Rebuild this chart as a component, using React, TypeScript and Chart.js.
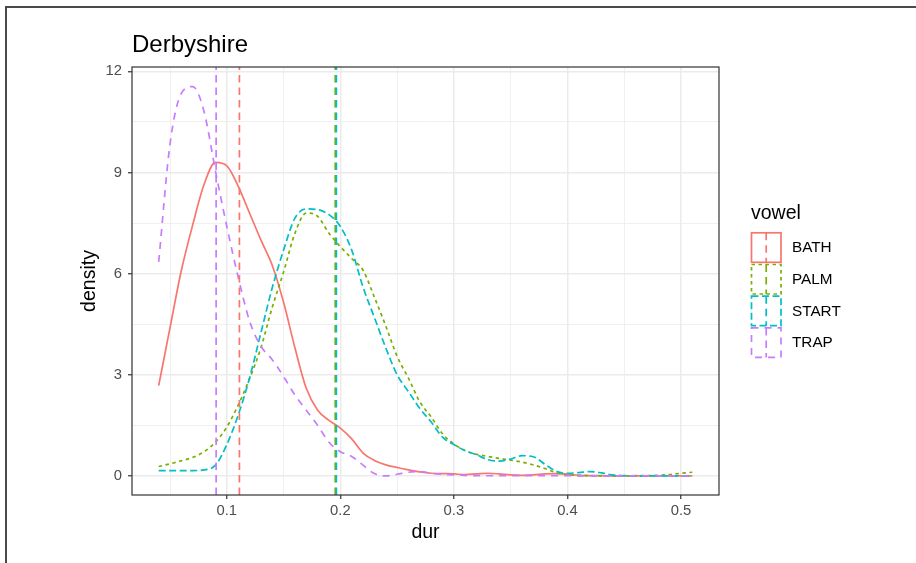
import React, { useEffect, useRef } from 'react';
import { Chart, registerables } from 'chart.js';

Chart.register(...registerables);

// ---------- data ----------
const durGrid = [
  0.04, 0.05, 0.06, 0.07, 0.08, 0.09, 0.1, 0.11, 0.12, 0.13, 0.14, 0.15,
  0.16, 0.17, 0.18, 0.19, 0.2, 0.21, 0.22, 0.23, 0.24, 0.25, 0.26, 0.27,
  0.28, 0.29, 0.3, 0.31, 0.32, 0.33, 0.34, 0.35, 0.36, 0.37, 0.38, 0.39,
  0.4, 0.41, 0.42, 0.43, 0.44, 0.45, 0.46, 0.47, 0.48, 0.49, 0.5, 0.51,
];

const bathDensity = [
  2.68, 4.4, 6.1, 7.45, 8.65, 9.3, 9.2, 8.6, 7.8, 7.0, 6.25, 5.15,
  3.8, 2.6, 1.95, 1.65, 1.42, 1.1, 0.68, 0.46, 0.33, 0.25, 0.18, 0.12,
  0.08, 0.07, 0.06, 0.04, 0.06, 0.08, 0.06, 0.03, 0.02, 0.03, 0.06, 0.07,
  0.05, 0.02, 0.01, 0.01, 0, 0, 0, 0, 0, 0, 0, 0,
];

const palmDensity = [
  0.28, 0.36, 0.45, 0.55, 0.72, 1.0, 1.45, 2.1, 2.88, 3.8, 5.0, 6.05,
  7.2, 7.8, 7.7, 7.2, 6.8, 6.45, 6.1, 5.3, 4.45, 3.55, 2.9, 2.2,
  1.75, 1.25, 0.95, 0.75, 0.64, 0.58, 0.52, 0.47, 0.41, 0.33, 0.22, 0.1,
  0.04, 0.02, 0.01, 0, 0, 0, 0.01, 0.01, 0.02, 0.04, 0.08, 0.11,
];

const startDensity = [
  0.16, 0.16, 0.16, 0.16, 0.18, 0.32, 0.93, 1.8, 2.9, 4.24, 5.58, 6.7,
  7.65, 7.92, 7.9, 7.75, 7.4, 6.7, 5.6, 4.7, 3.8, 3.0, 2.5, 2.0,
  1.6, 1.15, 0.93, 0.75, 0.63, 0.48, 0.44, 0.5, 0.6, 0.57, 0.35, 0.14,
  0.08, 0.1, 0.13, 0.09, 0.03, 0.01, 0, 0, 0, 0, 0, 0,
];

const trapDensity = [
  6.35, 9.85, 11.35, 11.55, 10.8, 9.05, 7.4, 5.9, 4.6, 3.85, 3.45, 2.95,
  2.4, 1.95, 1.5, 1.0, 0.72, 0.58, 0.32, 0.07, 0, 0.05, 0.11, 0.13,
  0.08, 0.05, 0.03, 0.02, 0.01, 0.01, 0.01, 0.01, 0.01, 0.01, 0.01, 0.01,
  0.01, 0, 0, 0, 0, 0, 0, 0, 0, 0, 0, 0,
];

const vowels = ['BATH', 'PALM', 'START', 'TRAP'];
const vowelMeans = [0.1111, 0.1955, 0.1965, 0.0906];

const xMajorTicks = [0.1, 0.2, 0.3, 0.4, 0.5];
const xMinorTicks = [0.05, 0.15, 0.25, 0.35, 0.45];
const xTickLabels = ['0.1', '0.2', '0.3', '0.4', '0.5'];
const yMajorTicks = [0, 3, 6, 9, 12];
const yMinorTicks = [1.5, 4.5, 7.5, 10.5];
const yTickLabels = ['0', '3', '6', '9', '12'];

const chartTitle = 'Derbyshire';
const xTitle = 'dur';
const yTitle = 'density';
const legendTitle = 'vowel';

// ---------- styles ----------
const X_MIN = 0.0165;
const X_MAX = 0.5335;
const Y_MIN = -0.565;
const Y_MAX = 12.13;
const COLORS = ['#F8766D', '#7CAE00', '#00BFC4', '#C77CFF'];
const DASHES: number[][] = [[], [3.5, 3.5], [7, 3.5], [7, 6]];
const VLINE_DASH = [7.5, 5];
const LW = 1.7;
const FONT = '"Liberation Sans", Arial, Helvetica, sans-serif';

const seriesValues = [bathDensity, palmDensity, startDensity, trapDensity];

const isMajor = (list: number[], v: number) => list.some((t) => Math.abs(t - v) < 1e-9);

const decorPlugin = {
  id: 'decor',
  beforeDraw(chart: any) {
    const ctx = chart.ctx;
    ctx.save();
    ctx.fillStyle = '#ffffff';
    ctx.fillRect(0, 0, chart.width, chart.height);
    // outer frame
    ctx.strokeStyle = '#4a4a4a';
    ctx.lineWidth = 2;
    ctx.beginPath();
    ctx.moveTo(6, chart.height);
    ctx.lineTo(6, 7);
    ctx.lineTo(chart.width, 7);
    ctx.stroke();
    ctx.restore();
  },
  afterDraw(chart: any) {
    const ctx = chart.ctx;
    const a = chart.chartArea;
    ctx.save();
    // panel border
    ctx.strokeStyle = '#333333';
    ctx.lineWidth = 1.2;
    ctx.setLineDash([]);
    ctx.strokeRect(a.left, a.top, a.right - a.left, a.bottom - a.top);

    // title
    ctx.fillStyle = '#000000';
    ctx.font = `24px ${FONT}`;
    ctx.textAlign = 'left';
    ctx.textBaseline = 'alphabetic';
    ctx.fillText(chartTitle, a.left, 52);

    // axis titles
    ctx.font = `19.5px ${FONT}`;
    ctx.textAlign = 'center';
    ctx.fillText(xTitle, (a.left + a.right) / 2, 538);
    ctx.save();
    ctx.translate(95, (a.top + a.bottom) / 2);
    ctx.rotate(-Math.PI / 2);
    ctx.fillText(yTitle, 0, 0);
    ctx.restore();

    // legend
    ctx.textAlign = 'left';
    ctx.font = `19.5px ${FONT}`;
    ctx.fillText(legendTitle, 751, 219);
    ctx.font = `15.3px ${FONT}`;
    ctx.textBaseline = 'middle';
    vowels.forEach((name, i) => {
      const top = 232 + i * 31.7;
      ctx.strokeStyle = COLORS[i];
      ctx.lineWidth = LW;
      ctx.setLineDash(DASHES[i]);
      ctx.strokeRect(751.5, top + 0.8, 29.5, 29.5);
      ctx.setLineDash(VLINE_DASH);
      ctx.beginPath();
      ctx.moveTo(766.2, top + 0.8);
      ctx.lineTo(766.2, top + 30.3);
      ctx.stroke();
      ctx.setLineDash([]);
      ctx.fillStyle = '#000000';
      ctx.fillText(name, 792, top + 16);
    });
    ctx.restore();
  },
};

export default function App() {
  const canvasRef = useRef<HTMLCanvasElement | null>(null);

  useEffect(() => {
    const canvas = canvasRef.current;
    if (!canvas) return;

    const densitySets = vowels.map((name, i) => ({
      label: name,
      data: durGrid.map((x, j) => ({ x, y: seriesValues[i][j] })),
      borderColor: COLORS[i],
      borderWidth: LW,
      borderDash: DASHES[i],
      borderCapStyle: 'butt',
      pointRadius: 0,
      fill: false,
      cubicInterpolationMode: 'monotone',
      order: 8 - i,
    }));
    const vlineSets = vowels.map((name, i) => ({
      label: name + ' mean',
      data: [
        { x: vowelMeans[i], y: Y_MIN },
        { x: vowelMeans[i], y: Y_MAX },
      ],
      borderColor: COLORS[i],
      borderWidth: LW,
      borderDash: VLINE_DASH,
      borderCapStyle: 'butt',
      pointRadius: 0,
      fill: false,
      order: 4 - i,
    }));

    const chart = new Chart(canvas, {
      type: 'line',
      data: { datasets: [...densitySets, ...vlineSets] as any },
      plugins: [decorPlugin],
      options: {
        animation: false,
        responsive: false,
        devicePixelRatio: 1,
        layout: { padding: { left: 0, top: 67, right: 197, bottom: 0 } },
        plugins: {
          legend: { display: false },
          title: { display: false },
          tooltip: { enabled: false },
        },
        scales: {
          x: {
            type: 'linear',
            min: X_MIN,
            max: X_MAX,
            afterBuildTicks: (scale: any) => {
              scale.ticks = [...xMinorTicks, ...xMajorTicks]
                .sort((p, q) => p - q)
                .map((value) => ({ value }));
            },
            afterFit: (scale: any) => {
              scale.height = 68;
            },
            border: { display: false },
            grid: {
              color: (c: any) => '#EBEBEB',
              lineWidth: (c: any) => (isMajor(xMajorTicks, c.tick?.value) ? 1.5 : 0.75),
              tickColor: (c: any) => (isMajor(xMajorTicks, c.tick?.value) ? '#333333' : 'rgba(0,0,0,0)'),
              tickWidth: 1.2,
              tickLength: 4,
            },
            ticks: {
              autoSkip: false,
              maxRotation: 0,
              padding: 3,
              color: '#4D4D4D',
              font: { family: FONT, size: 14.8 },
              callback: (v: any) => {
                const k = xMajorTicks.findIndex((t) => Math.abs(t - v) < 1e-9);
                return k >= 0 ? xTickLabels[k] : '';
              },
            },
          },
          y: {
            type: 'linear',
            min: Y_MIN,
            max: Y_MAX,
            afterBuildTicks: (scale: any) => {
              scale.ticks = [...yMinorTicks, ...yMajorTicks]
                .sort((p, q) => p - q)
                .map((value) => ({ value }));
            },
            afterFit: (scale: any) => {
              scale.width = 132;
            },
            border: { display: false },
            grid: {
              color: (c: any) => '#EBEBEB',
              lineWidth: (c: any) => (isMajor(yMajorTicks, c.tick?.value) ? 1.5 : 0.75),
              tickColor: (c: any) => (isMajor(yMajorTicks, c.tick?.value) ? '#333333' : 'rgba(0,0,0,0)'),
              tickWidth: 1.2,
              tickLength: 4,
            },
            ticks: {
              autoSkip: false,
              padding: 6,
              color: '#4D4D4D',
              font: { family: FONT, size: 14.8 },
              callback: (v: any) => {
                const k = yMajorTicks.findIndex((t) => Math.abs(t - v) < 1e-9);
                return k >= 0 ? yTickLabels[k] : '';
              },
            },
          },
        },
      } as any,
    });

    return () => chart.destroy();
  }, []);

  return (
    <div style={{ position: 'fixed', left: 0, top: 0, width: 916, height: 563, background: '#fff' }}>
      <canvas ref={canvasRef} width={916} height={563} style={{ display: 'block', width: 916, height: 563 }} />
    </div>
  );
}
